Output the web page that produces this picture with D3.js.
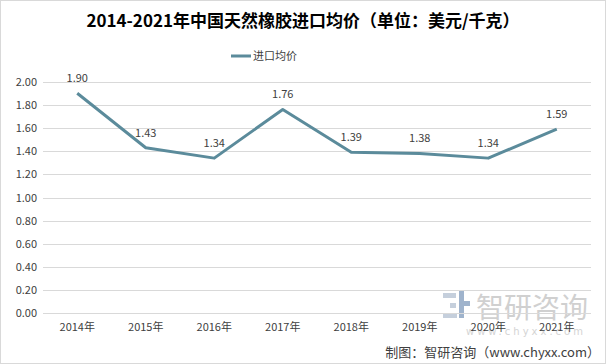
<!DOCTYPE html>
<html><head><meta charset="utf-8">
<script src="https://cdn.jsdelivr.net/npm/d3@7/dist/d3.min.js"></script>
<style>body{margin:0;background:#fff}svg{display:block}</style>
</head><body>
<script>
const categories = ["2014年","2015年","2016年","2017年","2018年","2019年","2020年","2021年"];
const values = [1.90,1.43,1.34,1.76,1.39,1.38,1.34,1.59];
const yTicks = [0,0.2,0.4,0.6,0.8,1.0,1.2,1.4,1.6,1.8,2.0];
const seriesName = "进口均价";
const title = "2014-2021年中国天然橡胶进口均价（单位：美元/千克）";
const source = "制图：智研咨询（www.chyxx.com）";

const W=606,H=364;
const font = "'Microsoft YaHei','Noto Sans CJK SC','DejaVu Sans',sans-serif";
const svg=d3.select("body").append("svg").attr("width",W).attr("height",H);
svg.append("rect").attr("x",0.5).attr("y",0.5).attr("width",W-1).attr("height",H-1).attr("fill","#fff").attr("stroke","#d9d9d9");

const x=d3.scaleBand().domain(categories).range([43,591]);
const y=d3.scaleLinear().domain([0,2]).range([313.3,81.7]);
const lineColor="#5b8b9b";

// watermark
const wm=svg.append("g");
wm.append("rect").attr("x",443).attr("y",293).attr("width",13).attr("height",5).attr("fill","#c5cfdc");
wm.append("rect").attr("x",450).attr("y",303).attr("width",6).attr("height",5).attr("fill","#c5cfdc");
wm.append("rect").attr("x",443).attr("y",313).attr("width",14).attr("height",5).attr("fill","#c5cfdc");
wm.append("rect").attr("x",459).attr("y",291).attr("width",5).attr("height",27).attr("fill","#9fb3cc");
wm.append("rect").attr("x",464).attr("y",301).attr("width",6).attr("height",5).attr("fill","#9fb3cc");
wm.append("text").attr("x",476).attr("y",318).attr("font-family",font).attr("font-size",28).attr("fill","#d0d0d0").text("智研咨询");
wm.append("text").attr("x",466).attr("y",335).attr("font-family","'DejaVu Sans',sans-serif").attr("font-size",10).attr("fill","#d4d4d4").attr("letter-spacing",3).text("www.chyxx.com");

// gridlines
svg.append("g").selectAll("line").data(yTicks).join("line")
 .attr("x1",43).attr("x2",591).attr("y1",d=>Math.round(y(d))+0.5).attr("y2",d=>Math.round(y(d))+0.5)
 .attr("stroke","#d9d9d9").attr("stroke-width",1);

// y axis labels
const ya=svg.append("g").attr("transform","translate(37,0)").call(d3.axisLeft(y).tickValues(yTicks).tickFormat(d3.format(".2f")).tickSize(0).tickPadding(0));
ya.select(".domain").remove();
ya.selectAll("text").attr("font-family",font).attr("font-size",11).attr("fill","#404040");

// x axis labels
const xa=svg.append("g").attr("transform","translate(0,322)").call(d3.axisBottom(x).tickSize(0).tickPadding(0));
xa.select(".domain").remove();
xa.selectAll("text").attr("font-family",font).attr("font-size",11).attr("fill","#404040").attr("dy","0.85em");

// line
const cx=d=>x(d)+x.bandwidth()/2;
svg.append("path").datum(values).attr("fill","none").attr("stroke",lineColor).attr("stroke-width",3)
 .attr("stroke-linejoin","round")
 .attr("d",d3.line().x((d,i)=>cx(categories[i])).y(d=>y(d)));

// data labels
svg.append("g").selectAll("text").data(values).join("text")
 .attr("x",(d,i)=>cx(categories[i])).attr("y",d=>y(d)-11)
 .attr("text-anchor","middle").attr("font-family",font).attr("font-size",11).attr("fill","#404040")
 .text(d=>d.toFixed(2));

// title
svg.append("text").attr("x",303).attr("y",27).attr("text-anchor","middle").attr("font-family",font)
 .attr("font-size",17).attr("font-weight","bold").attr("fill","#000").text(title);

// legend
svg.append("line").attr("x1",231).attr("x2",251).attr("y1",56).attr("y2",56).attr("stroke",lineColor).attr("stroke-width",3);
svg.append("text").attr("x",253).attr("y",60).attr("font-family",font).attr("font-size",11).attr("fill","#404040").text(seriesName);

// source
svg.append("text").attr("x",600).attr("y",357).attr("text-anchor","end").attr("font-family",font).attr("font-size",13).attr("fill","#404040").text(source);
</script>
</body></html>
